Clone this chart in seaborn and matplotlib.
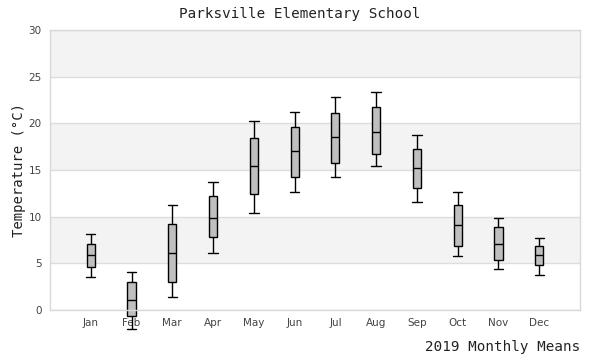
import numpy as np
import pandas as pd
import matplotlib.pyplot as plt
import seaborn as sns

# five-number summaries (deg C)
months = ["Jan", "Feb", "Mar", "Apr", "May", "Jun",
          "Jul", "Aug", "Sep", "Oct", "Nov", "Dec"]
t_min = [3.5, -2.0, 1.4, 6.1, 10.4, 12.6, 14.2, 15.4, 11.6, 5.8, 4.4, 3.7]
t_q1 = [4.6, -0.6, 3.0, 7.8, 12.4, 14.3, 15.8, 16.7, 13.1, 6.9, 5.4, 4.8]
t_med = [5.9, 1.1, 6.1, 9.9, 15.4, 17.0, 18.5, 19.1, 15.2, 9.1, 7.1, 5.9]
t_q3 = [7.1, 3.0, 9.2, 12.2, 18.4, 19.6, 21.1, 21.7, 17.2, 11.2, 8.9, 6.9]
t_max = [8.1, 4.1, 11.2, 13.7, 20.3, 21.2, 22.8, 23.4, 18.7, 12.6, 9.9, 7.7]

rows = []
for i, m in enumerate(months):
    for v in (t_min[i], t_q1[i], t_med[i], t_q3[i], t_max[i]):
        rows.append({"month": m, "temp": v})
df = pd.DataFrame(rows)

sns.set_theme(style="white")
mono = "DejaVu Sans Mono"

fig = plt.figure(figsize=(6, 3.6), dpi=100)
ax = fig.add_axes([50 / 600, 1 - 310 / 360, 530 / 600, 280 / 360])

# alternating bands
for lo in (5, 15, 25):
    ax.axhspan(lo, lo + 5, color="#f3f3f3", zorder=0, lw=0)

sns.boxplot(data=df, x="month", y="temp", order=months, whis=np.inf,
            width=0.2, color="#bfbfbf", linecolor="black", linewidth=1,
            saturation=1, capwidths=0.23, ax=ax)
for art in ax.patches + ax.lines:
    art.set_clip_on(False)

ax.set_xlim(-1, 12)
ax.set_ylim(0, 30)
ax.set_yticks(range(0, 31, 5))
ax.yaxis.grid(True, color="#dddddd", lw=1)
ax.set_axisbelow(True)
for s in ax.spines.values():
    s.set_color("#d9d9d9")
    s.set_linewidth(1)
ax.tick_params(length=0, labelsize=7.5, colors="#444444", pad=6)

ax.set_xlabel("")
ax.set_ylabel("Temperature (°C)", family=mono, fontsize=10, color="#222222")
ax.yaxis.set_label_coords(-0.046, 0.5)
fig.text(580 / 600, 1 - 347 / 360, "2019 Monthly Means", family=mono,
         fontsize=10.3, color="#222222", ha="right", va="center")
fig.text(0.5, 1 - 14 / 360, "Parksville Elementary School", family=mono,
         fontsize=10.3, color="#222222", ha="center", va="center")

fig.savefig("out.png", dpi=100)
